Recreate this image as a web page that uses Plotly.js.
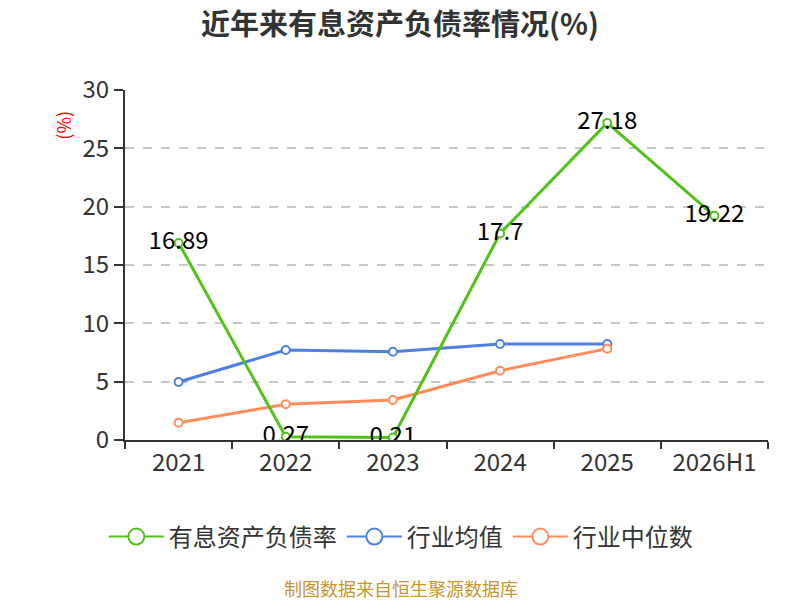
<!DOCTYPE html>
<html>
<head>
<meta charset="utf-8">
<script src="https://cdn.plot.ly/plotly-3.0.1.min.js"></script>
<style>
  body { margin: 0; background: #fff; }
  #chart { width: 800px; height: 600px; }
</style>
</head>
<body>
<div id="chart"></div>
<script>
var years = ['2021', '2022', '2023', '2024', '2025', '2026H1'];
var debtRatio = [16.89, 0.27, 0.21, 17.7, 27.18, 19.22];
var industryAvg = [4.97, 7.71, 7.57, 8.23, 8.23];
var industryMedian = [1.48, 3.06, 3.43, 5.94, 7.83];

var font = '"Noto Sans CJK SC", "Noto Sans", sans-serif';
var green = 'rgb(82,194,26)';
var blue = 'rgb(78,128,226)';
var orange = 'rgb(255,140,90)';

function line(name, y, color, withText) {
    var t = {
        x: years.slice(0, y.length),
        y: y,
        name: name,
        type: 'scatter',
        mode: withText ? 'lines+markers+text' : 'lines+markers',
        showlegend: false,
        line: { color: color, width: 3 },
        marker: { symbol: 'circle', size: 8, color: '#fff', line: { color: color, width: 2 } },
        hoverinfo: 'x+y'
    };
    if (withText) {
        t.text = y.map(String);
        t.textposition = 'middle center';
        t.textfont = { family: font, size: 24, color: '#000' };
    }
    return t;
}

// legend only entries, bigger circles like the original
function legendItem(name, color) {
    return {
        x: [null], y: [null], name: name, type: 'scatter', mode: 'lines+markers',
        line: { color: color, width: 2 },
        marker: { symbol: 'circle', size: 22, color: '#fff', line: { color: color, width: 2 } }
    };
}

var data = [
    line('行业均值', industryAvg, blue, false),
    line('行业中位数', industryMedian, orange, false),
    line('有息资产负债率', debtRatio, green, true),
    legendItem('有息资产负债率', green),
    legendItem('行业均值', blue),
    legendItem('行业中位数', orange)
];

var layout = {
    width: 800,
    height: 600,
    margin: { l: 125, r: 32, t: 90, b: 160 },
    paper_bgcolor: '#fff',
    plot_bgcolor: '#fff',
    font: { family: font, color: '#333' },
    title: {
        text: '<b>近年来有息资产负债率情况(%)</b>',
        font: { family: font, size: 29, color: '#333' },
        x: 0.5, xanchor: 'center', y: 0.958, yanchor: 'middle'
    },
    xaxis: {
        type: 'category',
        range: [-0.5, 5.5],
        showline: true, linecolor: '#333', linewidth: 2,
        ticks: 'outside', tickson: 'boundaries', ticklen: 7, tickcolor: '#333', tickwidth: 1.5,
        tickfont: { family: font, size: 24, color: '#333' },
        showgrid: false, zeroline: false
    },
    yaxis: {
        range: [0, 30],
        dtick: 5,
        showline: true, linecolor: '#333', linewidth: 2,
        ticks: 'outside', ticklen: 9, tickcolor: '#333', tickwidth: 1.5,
        tickfont: { family: font, size: 24, color: '#333' },
        showgrid: true, gridcolor: '#c8c8c8', griddash: 'dash', gridwidth: 1.5,
        zeroline: false
    },
    legend: {
        orientation: 'h',
        x: 0.429, xanchor: 'center',
        y: -0.277, yanchor: 'middle',
        font: { family: font, size: 24, color: '#333' },
        itemwidth: 55
    },
    annotations: [
        {
            text: '(%)', textangle: -90, showarrow: false,
            xref: 'paper', yref: 'paper', x: -0.097, y: 0.9, xanchor: 'center', yanchor: 'middle',
            font: { family: font, size: 18, color: 'red' }
        },
        {
            text: '制图数据来自恒生聚源数据库', showarrow: false,
            xref: 'paper', yref: 'paper', x: 0.429, y: -0.423, xanchor: 'center', yanchor: 'middle',
            font: { family: font, size: 18, color: '#c8962e' }
        }
    ]
};

Plotly.newPlot('chart', data, layout, { displayModeBar: false });
</script>
</body>
</html>
